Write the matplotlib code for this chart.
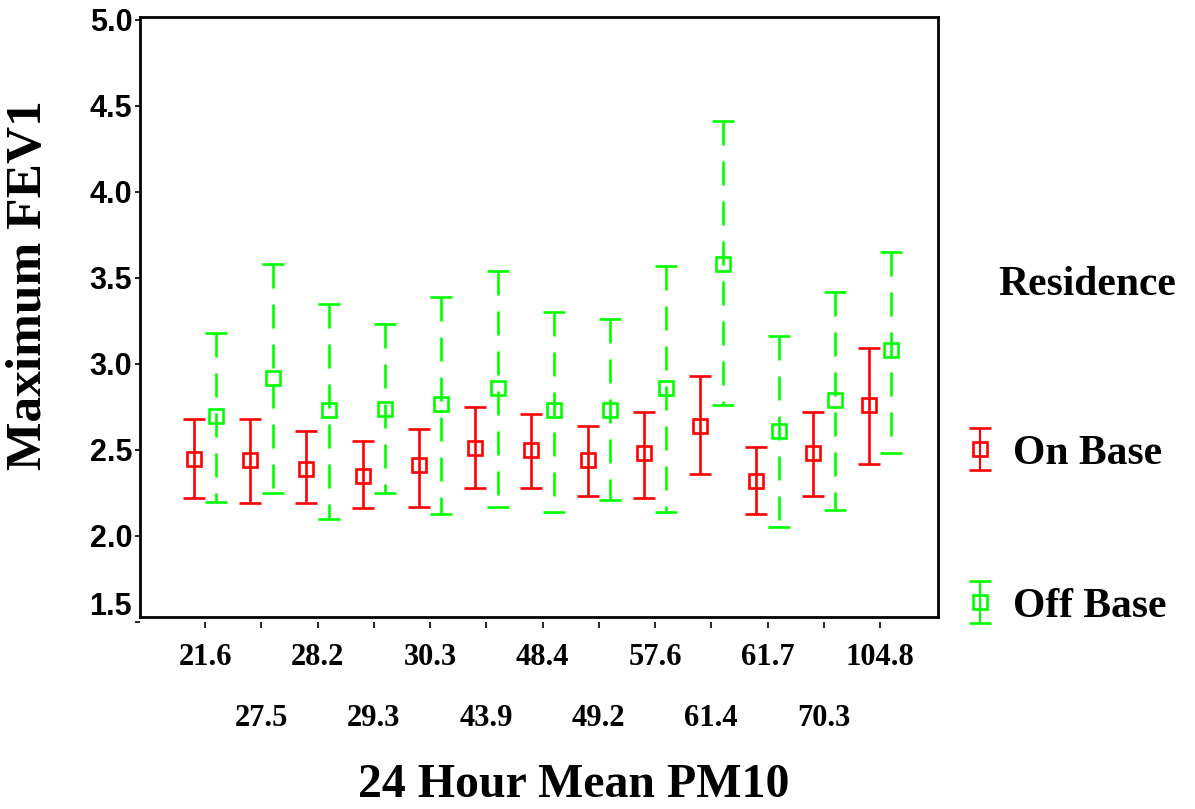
import matplotlib
matplotlib.use("Agg")
import matplotlib.pyplot as plt
from matplotlib.collections import LineCollection
import numpy as np

plt.rcParams['lines.scale_dashes'] = False

categories = ['21.6', '27.5', '28.2', '29.3', '30.3', '43.9', '48.4',
              '49.2', '57.6', '61.4', '61.7', '70.3', '104.8']
on_mean = [2.45, 2.44, 2.39, 2.35, 2.41, 2.51, 2.50, 2.44, 2.48, 2.64, 2.32, 2.48, 2.76]
on_low = [2.22, 2.19, 2.19, 2.16, 2.17, 2.28, 2.28, 2.23, 2.22, 2.36, 2.13, 2.23, 2.42]
on_high = [2.68, 2.68, 2.61, 2.55, 2.62, 2.75, 2.71, 2.64, 2.72, 2.93, 2.52, 2.72, 3.09]
off_mean = [2.70, 2.92, 2.73, 2.74, 2.77, 2.86, 2.73, 2.73, 2.86, 3.58, 2.61, 2.79, 3.08]
off_low = [2.20, 2.25, 2.10, 2.25, 2.13, 2.17, 2.14, 2.21, 2.14, 2.76, 2.05, 2.15, 2.48]
off_high = [3.18, 3.58, 3.35, 3.23, 3.39, 3.54, 3.30, 3.26, 3.57, 4.41, 3.16, 3.42, 3.65]
y_ticks = [1.5, 2.0, 2.5, 3.0, 3.5, 4.0, 4.5, 5.0]
series_names = ['On Base', 'Off Base']

W, H = 1195, 809
fig = plt.figure(figsize=(W / 100, H / 100), dpi=100)
ax = fig.add_axes([140 / W, 1 - 622 / H, (938 - 140) / W, (622 - 17) / H])

serif = 'Liberation Serif'
sans = 'Liberation Sans'

x = np.arange(len(categories))
off = 0.2


def draw(xpos, mean, low, high, color, dashed):
    mean = np.array(mean)
    yerr = [mean - np.array(low), np.array(high) - mean]
    cont = ax.errorbar(xpos, mean, yerr=yerr, fmt='s', color=color,
                       mfc='none', mec=color, ms=9.8, mew=1.9,
                       elinewidth=1.9, capsize=7.9, capthick=1.9)
    bc = cont[2][0]
    bc.set_segments([seg[::-1] for seg in bc.get_segments()])
    if dashed:
        bc.set_linestyle((0, (17.3, 11.5)))
    return cont


c_on = draw(x - off, on_mean, on_low, on_high, '#ff0000', False)
c_off = draw(x + off, off_mean, off_low, off_high, '#00ff00', True)

ax.set_xlim(-1.156, 13.03)
ax.set_ylim(1.5, 5.017)
frame_bottom = 1.529
ax.axhline(frame_bottom, color='black', lw=2.0, clip_on=False)
for s in ['left', 'right']:
    ax.spines[s].set_bounds(frame_bottom, 5.017)
    ax.spines[s].set_linewidth(2.0)
ax.spines['top'].set_linewidth(2.0)
ax.spines['bottom'].set_visible(False)

ax.set_yticks(y_ticks)
ylabels = ax.set_yticklabels([f'{v:.1f}' for v in y_ticks], fontfamily=sans,
                             fontweight='bold', fontsize=22)
ylabels[0].set_va('bottom')
ax.tick_params(axis='y', direction='out', length=3.6, width=1.2, pad=2)

ax.set_xticks(x[::2])
ax.set_xticklabels(categories[::2], fontfamily=serif, fontweight='bold', fontsize=22)
ax.set_xticks(x[1::2], minor=True)
ax.set_xticklabels(categories[1::2], minor=True, fontfamily=serif,
                   fontweight='bold', fontsize=22)
ax.tick_params(axis='x', which='major', direction='out', length=4.3, width=1.2, pad=11)
ax.tick_params(axis='x', which='minor', direction='out', length=4.3, width=1.2, pad=55)

fig.text(29 / W, 1 - 285 / H, 'Maximum FEV1', rotation=90, ha='center',
         va='center', fontfamily=serif, fontweight='bold', fontsize=37)
fig.text(574 / W, 1 - 785 / H, '24 Hour Mean PM10', ha='center', va='center',
         fontfamily=serif, fontweight='bold', fontsize=34.5)
fig.text(998 / W, 1 - 285 / H, 'Residence', ha='left', va='center',
         fontfamily=serif, fontweight='bold', fontsize=30)

leg = fig.legend([c_on, c_off], series_names, loc='center left',
                 bbox_to_anchor=(959 / W, 1 - 530 / H), frameon=False,
                 borderpad=0, borderaxespad=0, handlelength=1.0,
                 handletextpad=0.29, labelspacing=2.76, numpoints=1,
                 prop={'family': serif, 'weight': 'bold', 'size': 30})
for lc in leg.findobj(LineCollection):
    lc.set_linestyle('solid')

fig.savefig('out.png', dpi=100)
